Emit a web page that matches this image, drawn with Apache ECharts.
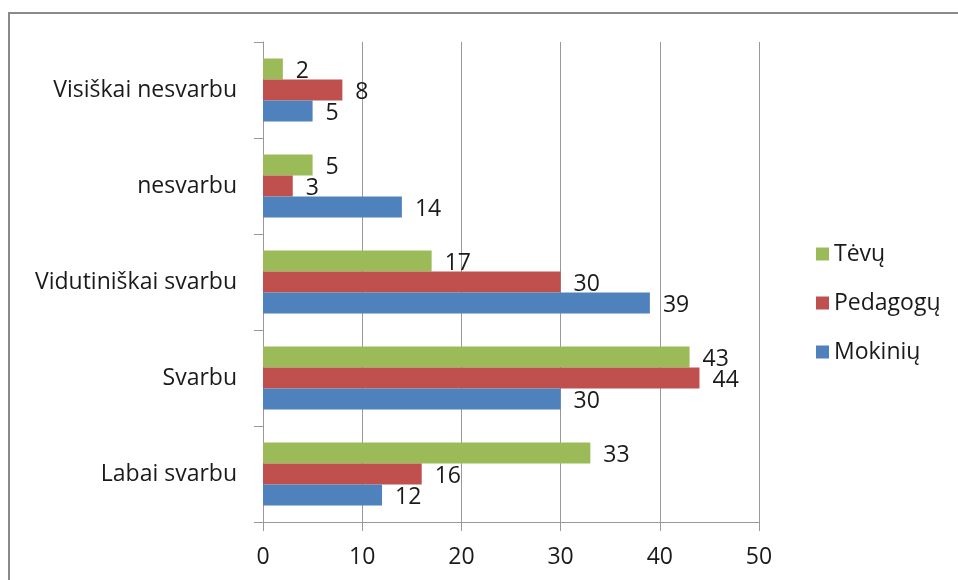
<!DOCTYPE html>
<html>
<head>
<meta charset="utf-8">
<script src="https://cdn.jsdelivr.net/npm/echarts@6/dist/echarts.min.js"></script>
<style>
  html, body { margin: 0; padding: 0; background: #fff; }
  #chart { width: 958px; height: 580px; }
</style>
</head>
<body>
<div id="chart"></div>
<script>
// Categories, bottom to top
const categories = ['Labai svarbu', 'Svarbu', 'Vidutiniškai svarbu', 'nesvarbu', 'Visiškai nesvarbu'];

// Percent per group
const mokiniu = [12, 30, 39, 14, 5];
const pedagogu = [16, 44, 30, 3, 8];
const tevu = [33, 43, 17, 5, 2];

const xTicks = [0, 10, 20, 30, 40, 50];

const FONT = '"Open Sans", "Noto Sans", sans-serif';
const FS = 23;

const labelStyle = {
  show: true,
  position: 'right',
  distance: 13,
  color: '#1a1a1a',
  fontSize: FS,
  fontFamily: FONT,
  offset: [0, 2]
};

function barSeries(name, data, color) {
  return {
    name: name,
    type: 'bar',
    data: data,
    barWidth: 21,
    barGap: '0%',
    itemStyle: { color: color },
    label: labelStyle
  };
}

const chart = echarts.init(document.getElementById('chart'));
chart.setOption({
  animation: false,
  backgroundColor: '#fff',
  textStyle: { fontFamily: FONT },
  graphic: [{
    type: 'rect',
    shape: { x: 9, y: 13, width: 1000, height: 700 },
    style: { fill: 'none', stroke: '#8a8a8a', lineWidth: 2 },
    silent: true,
    z: -1
  }],
  grid: { left: 263, top: 42, right: 199, bottom: 58, containLabel: false },
  legend: {
    orient: 'vertical',
    left: 811,
    top: 237,
    itemWidth: 13,
    itemHeight: 13,
    itemGap: 25,
    icon: 'rect',
    data: ['Tėvų', 'Pedagogų', 'Mokinių'],
    textStyle: { fontSize: FS, fontFamily: FONT, color: '#1a1a1a', lineHeight: 24 }
  },
  xAxis: {
    type: 'value',
    min: xTicks[0],
    max: xTicks[xTicks.length - 1],
    interval: 10,
    axisLine: { show: true, lineStyle: { color: '#999', width: 1 } },
    axisTick: { show: true, length: 9, lineStyle: { color: '#999' } },
    splitLine: { show: true, lineStyle: { color: '#999', width: 1 } },
    axisLabel: { color: '#1a1a1a', fontSize: FS, fontFamily: FONT, margin: 24 }
  },
  yAxis: {
    type: 'category',
    data: categories,
    boundaryGap: true,
    axisLine: { show: true, lineStyle: { color: '#999', width: 1 } },
    axisTick: { show: true, length: 9, lineStyle: { color: '#999' } },
    axisLabel: { color: '#1a1a1a', fontSize: FS, fontFamily: FONT, margin: 26 }
  },
  // the first series sits at the top of each group
  series: [
    barSeries('Tėvų', tevu, '#9BBB59'),
    barSeries('Pedagogų', pedagogu, '#C0504D'),
    barSeries('Mokinių', mokiniu, '#4F81BD')
  ]
});
</script>
</body>
</html>
